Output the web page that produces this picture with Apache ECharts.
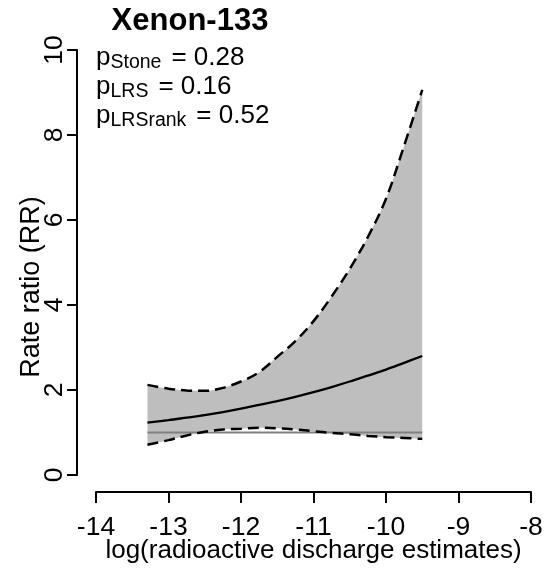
<!DOCTYPE html>
<html>
<head>
<meta charset="utf-8">
<script src="https://cdn.jsdelivr.net/npm/echarts@6/dist/echarts.min.js"></script>
<style>
  html, body { margin: 0; padding: 0; background: #fff; }
  #chart { width: 544px; height: 568px; }
</style>
</head>
<body>
<div id="chart"></div>
<script>
// Exposure grid: log(radioactive discharge estimates)
const logDose = [-13.29, -13.0, -12.75, -12.5, -12.25, -12.0, -11.75, -11.5,
                 -11.25, -11.0, -10.75, -10.5, -10.25, -10.0, -9.75, -9.5];
// Fitted rate ratio and its 95% confidence limits
const rrFit   = [1.23, 1.29, 1.35, 1.41, 1.48, 1.56, 1.65, 1.74,
                 1.84, 1.95, 2.07, 2.20, 2.34, 2.48, 2.64, 2.80];
const rrLower = [0.71, 0.82, 0.93, 1.02, 1.07, 1.09, 1.11, 1.10,
                 1.07, 1.03, 0.99, 0.96, 0.92, 0.89, 0.87, 0.85];
const rrUpper = [2.12, 2.03, 1.99, 1.98, 2.05, 2.20, 2.42, 2.78,
                 3.15, 3.62, 4.20, 4.85, 5.60, 6.50, 7.75, 9.06];
// Null reference (RR = 1)
const refValue = 1;
// Axis ticks
const xTicks = [-14, -13, -12, -11, -10, -9, -8];
const yTicks = [0, 2, 4, 6, 8, 10];
// Test statistics
const pLabels = [
  { sub: 'Stone',   value: '0.28' },
  { sub: 'LRS',     value: '0.16' },
  { sub: 'LRSrank', value: '0.52' }
];

const FONT = '"Liberation Sans", Arial, sans-serif';
const pair = (ys) => logDose.map((x, i) => [x, ys[i]]);
const bandFloor = Math.min.apply(null, rrLower);
const SMOOTH = 0.35;
const DASH = [11, 6];

const chart = echarts.init(document.getElementById('chart'), null, { renderer: 'canvas' });

const pGraphics = pLabels.map((p, i) => ({
  type: 'text',
  x: 96,
  y: 43 + i * 29,
  z: 10,
  style: {
    text: '{m|p}{s|' + p.sub + '}{e|=}{m| ' + p.value + '}',
    rich: {
      m: { fontFamily: FONT, fontSize: 26, lineHeight: 30, fill: '#000' },
      e: { fontFamily: FONT, fontSize: 26, lineHeight: 30, fill: '#000', padding: [0, 0, 0, 10] },
      s: { fontFamily: FONT, fontSize: 19.5, lineHeight: 19, verticalAlign: 'bottom', fill: '#000' }
    }
  }
}));

chart.setOption({
  animation: false,
  backgroundColor: '#fff',
  grid: {
    left: 96, right: 13, top: 50, bottom: 93,
    containLabel: false,
    outerBoundsMode: 'none'
  },
  xAxis: {
    type: 'value',
    min: xTicks[0],
    max: xTicks[xTicks.length - 1],
    interval: 1,
    offset: 17,
    splitLine: { show: false },
    axisLine: { show: true, onZero: false, lineStyle: { color: '#000', width: 2 } },
    axisTick: { show: true, length: 11, lineStyle: { color: '#000', width: 2 } },
    axisLabel: { color: '#000', fontFamily: FONT, fontSize: 26.5, margin: 22 },
    name: 'log(radioactive discharge estimates)',
    nameLocation: 'middle',
    nameGap: 46,
    nameMoveOverlap: false,
    nameTextStyle: { color: '#000', fontFamily: FONT, fontSize: 26 }
  },
  yAxis: {
    type: 'value',
    min: yTicks[0],
    max: yTicks[yTicks.length - 1],
    interval: 2,
    offset: 19,
    splitLine: { show: false },
    axisLine: { show: true, onZero: false, lineStyle: { color: '#000', width: 2 } },
    axisTick: { show: true, length: 10, lineStyle: { color: '#000', width: 2 } },
    axisLabel: { color: '#000', fontFamily: FONT, fontSize: 26.5, rotate: 90, margin: 9 }
  },
  graphic: [
    {
      type: 'text',
      x: 190,
      y: 21,
      style: {
        text: 'Xenon-133', fontFamily: FONT, fontSize: 31, fontWeight: 'bold', fill: '#000',
        align: 'center', verticalAlign: 'middle'
      }
    },
    {
      type: 'text',
      rotation: Math.PI / 2,
      x: 32,
      y: 287,
      style: {
        text: 'Rate ratio (RR)', fontFamily: FONT, fontSize: 27, fill: '#000',
        align: 'center', verticalAlign: 'middle'
      }
    }
  ].concat(pGraphics),
  series: [
    // confidence band: grey below the upper limit, then cleared below the lower limit
    {
      name: 'bandUpper', type: 'line', data: pair(rrUpper),
      smooth: SMOOTH, symbol: 'none', lineStyle: { opacity: 0 },
      areaStyle: { color: '#bebebe', opacity: 1, origin: bandFloor }, silent: true, z: 1
    },
    {
      name: 'bandLower', type: 'line', data: pair(rrLower),
      smooth: SMOOTH, symbol: 'none', lineStyle: { opacity: 0 },
      areaStyle: { color: '#ffffff', opacity: 1, origin: 'start' }, silent: true, z: 1
    },
    {
      name: 'reference', type: 'line',
      data: [[logDose[0], refValue], [logDose[logDose.length - 1], refValue]],
      symbol: 'none', lineStyle: { color: '#808080', width: 2.2 }, z: 2
    },
    {
      name: 'upper', type: 'line', data: pair(rrUpper), smooth: SMOOTH, symbol: 'none',
      lineStyle: { color: '#000', width: 2.5, type: DASH }, z: 3
    },
    {
      name: 'lower', type: 'line', data: pair(rrLower), smooth: SMOOTH, symbol: 'none',
      lineStyle: { color: '#000', width: 2.5, type: DASH }, z: 3
    },
    {
      name: 'fit', type: 'line', data: pair(rrFit), smooth: SMOOTH, symbol: 'none',
      lineStyle: { color: '#000', width: 2.3 }, z: 4
    }
  ]
});
</script>
</body>
</html>
